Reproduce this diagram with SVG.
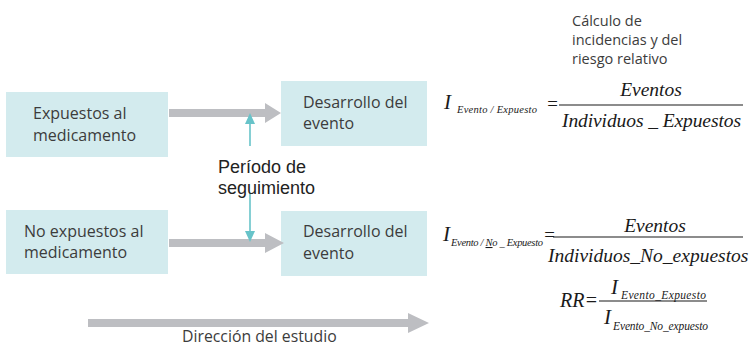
<svg xmlns="http://www.w3.org/2000/svg" width="753" height="348" viewBox="0 0 753 348">
<style>
.box{fill:#d3ebee}
.lbl{font-family:"Open Sans","Liberation Sans",sans-serif;font-size:16px;fill:#3c3c3c}
.cap{font-family:"Open Sans","Liberation Sans",sans-serif;font-size:14.5px;fill:#3c3c3c}
.per{font-family:"Liberation Sans",Arial,sans-serif;font-size:18px;fill:#222}
.m{font-family:"Liberation Serif","Times New Roman",serif;font-style:italic;fill:#1a1a1a}
.gray{fill:#bdbec2}
.teal{stroke:#67c3c9;stroke-width:1.6;fill:none}
.tealh{fill:#67c3c9}
.fl{stroke:#1a1a1a;stroke-width:1.2}
</style>
<rect width="753" height="348" fill="#fff"/>
<g id="node-expuestos">
<rect class="box" x="6" y="92" width="162" height="65"/>
<text class="lbl" x="33" y="119">Expuestos al</text>
<text class="lbl" x="33" y="141">medicamento</text>
</g>
<g id="node-desarrollo1">
<rect class="box" x="281" y="81" width="146" height="65"/>
<text class="lbl" x="303" y="108">Desarrollo del</text>
<text class="lbl" x="303" y="129">evento</text>
</g>
<g id="node-noexpuestos">
<rect class="box" x="6" y="210" width="162" height="64"/>
<text class="lbl" x="24" y="237">No expuestos al</text>
<text class="lbl" x="24" y="258">medicamento</text>
</g>
<g id="node-desarrollo2">
<rect class="box" x="281" y="211" width="146" height="65"/>
<text class="lbl" x="303" y="237">Desarrollo del</text>
<text class="lbl" x="303" y="259">evento</text>
</g>
<g id="connectors">
<polygon class="gray" points="169,109 265,109 265,103 281,113 265,123 265,117 169,117"/>
<polygon class="gray" points="169,239 265,239 265,233 284,243 265,253 265,247 169,247"/>
<polygon class="gray" points="88,319 408,319 408,313 429,323 408,333 408,327 88,327"/>
<line class="teal" x1="250" y1="146" x2="250" y2="123"/>
<polygon class="tealh" points="245,124 255,124 250,113"/>
<line class="teal" x1="250" y1="193" x2="250" y2="232"/>
<polygon class="tealh" points="245,231 255,231 250,242"/>
</g>
<g id="label-periodo">
<text class="per" x="218" y="173">Período de</text>
<text class="per" x="218" y="194">seguimiento</text>
</g>
<g id="label-direccion">
<text class="lbl" x="182" y="342" style="font-size:15.8px">Dirección del estudio</text>
</g>
<g id="label-calculo">
<text class="cap" x="572" y="26">Cálculo de</text>
<text class="cap" x="572" y="45">incidencias y del</text>
<text class="cap" x="572" y="64">riesgo relativo</text>
</g>
<g id="formula-expuesto">
<text class="m" x="444" y="109" font-size="21">I</text>
<text class="m" x="457" y="113" font-size="10.5" textLength="80">Evento / Expuesto</text>
<text class="m" x="546" y="110" font-size="19">=</text>
<line class="fl" x1="559" y1="105" x2="743" y2="105"/>
<text class="m" x="651" y="96" font-size="19.5" text-anchor="middle">Eventos</text>
<text class="m" x="562" y="127" font-size="19.5" textLength="179">Individuos _ Expuestos</text>
</g>
<g id="formula-noexpuesto">
<text class="m" x="443" y="241" font-size="21">I</text>
<text class="m" x="451" y="246" font-size="10.5" textLength="92">Evento / <tspan text-decoration="underline">N</tspan>o _ Expuesto</text>
<text class="m" x="543" y="241" font-size="19">=</text>
<line class="fl" x1="553" y1="237" x2="743" y2="237"/>
<text class="m" x="655" y="232" font-size="19.5" text-anchor="middle">Eventos</text>
<text class="m" x="548" y="262" font-size="19.5">Individuos_No_expuestos</text>
</g>
<g id="formula-rr">
<text class="m" x="560" y="307" font-size="20">RR=</text>
<line class="fl" x1="599" y1="301" x2="707" y2="301"/>
<text class="m" x="611" y="294" font-size="21">I</text>
<text class="m" x="621" y="299" font-size="11.5" textLength="85">Evento_Expuesto</text>
<text class="m" x="604" y="324" font-size="21">I</text>
<text class="m" x="613" y="330" font-size="11.5" textLength="95">Evento_No_expuesto</text>
</g>
</svg>
